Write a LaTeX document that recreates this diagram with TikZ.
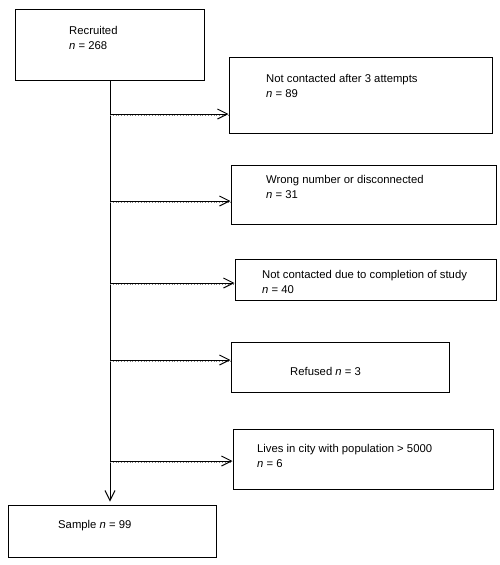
\documentclass[tikz,border=0pt]{standalone}
\usepackage{fontspec}
\setmainfont{Liberation Sans}
\usetikzlibrary{positioning,arrows.meta}

\begin{document}
\begin{tikzpicture}[x=1pt,y=-1pt,
  box/.style={draw,line width=1pt,inner sep=0pt},
  txt/.style={anchor=north west,inner sep=0pt,align=left,font=\fontsize{11.3}{15}\selectfont},
  exc/.style={line width=1pt,-{Straight Barb[length=10pt,width=10pt]}},
  dots/.style={gray,dotted,line width=0.8pt}]
\useasboundingbox (0,0) rectangle (499,565);
% boxes
\node[box,minimum width=189pt,minimum height=71pt] (rec) at (109.5,44.5) {};
\node[box,minimum width=263pt,minimum height=76pt] (nc) at (360.5,95) {};
\node[box,minimum width=265pt,minimum height=59pt] (wn) at (363.5,194.5) {};
\node[box,minimum width=261pt,minimum height=41pt] (cs) at (365.5,279.5) {};
\node[box,minimum width=218pt,minimum height=50pt] (rf) at (340,367) {};
\node[box,minimum width=260pt,minimum height=60pt] (lc) at (363,459) {};
\node[box,minimum width=208pt,minimum height=52pt] (smp) at (112,531) {};
% texts
\node[txt] (t-rec) at (69,26.5) {Recruited\\\textit{n} = 268};
\node[txt] (t-nc) at (266,74.5) {Not contacted after 3 attempts\\\textit{n} = 89};
\node[txt] (t-wn) at (266,175.5) {Wrong number or disconnected\\\textit{n} = 31};
\node[txt] (t-cs) at (262,270.5) {Not contacted due to completion of study\\\textit{n} = 40};
\node[txt] (t-rf) at (290,367.5) {Refused \textit{n} = 3};
\node[txt] (t-lc) at (257,444) {Lives in city with population > 5000\\\textit{n} = 6};
\node[txt] (t-smp) at (58,520) {Sample \textit{n} = 99};
% trunk and exclusions
\coordinate (trunk) at (110,80);
\draw[exc,shorten >=3pt] (trunk) -- (trunk |- smp.north);
\foreach \y/\b in {114/nc,201/wn,283/cs,360/rf,461/lc}{
  \coordinate (j\b) at (110,\y);
  \draw[dots] ([yshift=-1.5pt]j\b) -- ([yshift=-1.5pt]j\b -| \b.west);
  \draw[exc] (j\b) -- (j\b -| \b.west);
}
\end{tikzpicture}
\end{document}
